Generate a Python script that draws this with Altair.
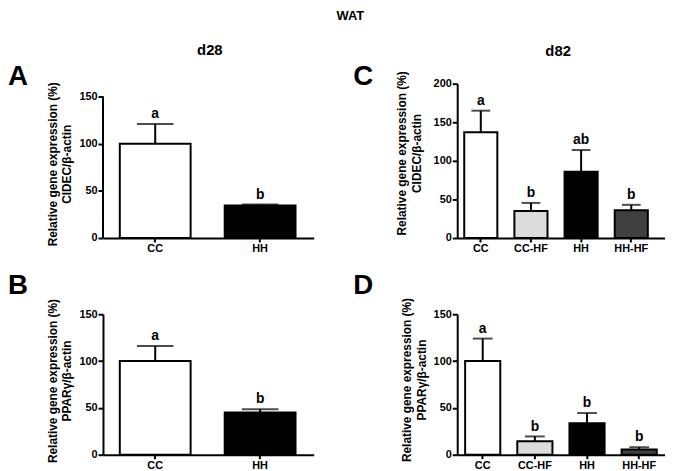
import altair as alt
import pandas as pd

FONT = "Liberation Sans"

groups_d28 = ["CC", "HH"]
groups_d82 = ["CC", "CC-HF", "HH", "HH-HF"]

cidec_d28_mean = [100, 34.5]
cidec_d28_err = [21, 1]
cidec_d28_sig = ["a", "b"]

ppar_d28_mean = [100, 45]
ppar_d28_err = [16, 3.5]
ppar_d28_sig = ["a", "b"]

cidec_d82_mean = [137, 35, 86, 36]
cidec_d82_err = [28, 10.5, 28, 7]
cidec_d82_sig = ["a", "b", "ab", "b"]

ppar_d82_mean = [100, 14.5, 33.5, 5.5]
ppar_d82_err = [24, 5, 11, 2.5]
ppar_d82_sig = ["a", "b", "b", "b"]

fill_domain = ["CC", "CC-HF", "HH", "HH-HF"]
fill_range = ["#ffffff", "#dcdcdc", "#000000", "#404040"]

title_cidec = ["Relative gene expression (%)", "CIDEC/\u03b2-actin"]
title_ppar = ["Relative gene expression (%)", "PPAR\u03b3/\u03b2-actin"]


def note(text, x, y, size, align="left", baseline="alphabetic"):
    return alt.Chart(pd.DataFrame({"t": [text]})).mark_text(
        font=FONT, fontSize=size, fontWeight="bold", color="black",
        align=align, baseline=baseline,
    ).encode(text="t:N", x=alt.value(x), y=alt.value(y))


def panel(cats, means, errs, sig, ydom, yvals, width, height, pin, pout, align,
          cap, ytitle, tpad, ty, notes, axis_rule=None):
    df = pd.DataFrame({
        "g": cats,
        "m": means,
        "top": [m + e for m, e in zip(means, errs)],
        "lab": sig,
    })
    x = alt.X("g:N", sort=cats,
              scale=alt.Scale(paddingInner=pin, paddingOuter=pout, align=align),
              axis=alt.Axis(title=None, labelAngle=0, tickSize=4, labelPadding=1,
                            domainWidth=2, tickWidth=2))
    yscale = alt.Scale(domain=[0, ydom], nice=False, zero=True)
    yaxis = alt.Axis(values=yvals, title=ytitle, tickSize=5, labelPadding=1,
                     titlePadding=tpad, titleY=ty, titleLineHeight=15,
                     domain=axis_rule is None, domainWidth=2, tickWidth=2)
    base = alt.Chart(df)
    bars = base.mark_bar(stroke="black", strokeWidth=2).encode(
        x=x,
        y=alt.Y("m:Q", scale=yscale, axis=yaxis),
        fill=alt.Fill("g:N", scale=alt.Scale(domain=fill_domain, range=fill_range),
                      legend=None),
    )
    err = base.mark_rule(color="black", strokeWidth=2).encode(
        x=x, y=alt.Y("m:Q", scale=yscale, axis=yaxis), y2="top:Q")
    capm = base.mark_tick(orient="horizontal", size=cap, thickness=2,
                          color="black").encode(
        x=x, y=alt.Y("top:Q", scale=yscale, axis=yaxis))
    txt = base.mark_text(font=FONT, fontSize=14, fontWeight="bold", dy=-6,
                         baseline="alphabetic", color="black").encode(
        x=x, y=alt.Y("top:Q", scale=yscale, axis=yaxis), text="lab:N")
    layers = [bars, err, capm, txt]
    if axis_rule is not None:
        layers.append(
            alt.Chart(pd.DataFrame({"a": [0]})).mark_rule(color="black", strokeWidth=2)
            .encode(x=alt.value(0), y=alt.datum(0), y2=alt.datum(axis_rule))
        )
    layers += notes
    return alt.layer(*layers).properties(width=width, height=height)


pA = panel(groups_d28, cidec_d28_mean, cidec_d28_err, cidec_d28_sig,
           150 * 156 / 143, [0, 50, 100, 150], 213, 156, 0.325, 0.167, 0.48,
           37, title_cidec, 5, 81,
           [note("A", -96, 1, 28), note("d28", 108, -29, 15, align="center"),
            note("WAT", 250, -74, 13, align="center", baseline="top")],
           axis_rule=150)

pC = panel(groups_d82, cidec_d82_mean, cidec_d82_err, cidec_d82_sig,
           200, [0, 50, 100, 150, 200], 210, 156, 0.34, 0.241, 0.29,
           19, title_cidec, 10, 70,
           [note("C", -105, 1, 28), note("d82", 102, -28, 15, align="center")])

pB = panel(groups_d28, ppar_d28_mean, ppar_d28_err, ppar_d28_sig,
           150, [0, 50, 100, 150], 213, 142, 0.325, 0.167, 0.48,
           37, title_ppar, 5, 67,
           [note("B", -96, -20, 28)])

pD = panel(groups_d82, ppar_d82_mean, ppar_d82_err, ppar_d82_sig,
           150, [0, 50, 100, 150], 210, 142, 0.326, 0.155, 0.49,
           20, title_ppar, 5, 66,
           [note("D", -105, -20, 28)])

chart = alt.concat(pA, pC, pB, pD, columns=2,
                   spacing={"row": 77, "column": 145}, bounds="flush").properties(
    padding={"left": 0, "top": 0, "right": 0, "bottom": 0}
).configure_view(stroke=None).configure_axis(
    grid=False, labelFont=FONT, titleFont=FONT, labelFontSize=11,
    labelFontWeight="bold", titleFontSize=12, titleFontWeight="bold",
    labelColor="black", titleColor="black", domainColor="black", tickColor="black",
)

chart.save("out.html", embed_options={"renderer": "svg", "actions": False})
